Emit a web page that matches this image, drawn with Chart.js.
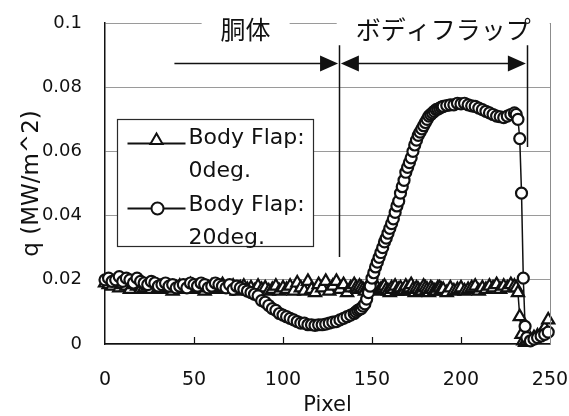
<!DOCTYPE html>
<html>
<head>
<meta charset="utf-8">
<script src="https://cdn.jsdelivr.net/npm/chart.js@4/dist/chart.umd.min.js"></script>
<style>
  html, body { margin: 0; padding: 0; background: #fff; }
  canvas { display: block; }
</style>
</head>
<body>
<canvas id="heatflux" width="569" height="416"></canvas>
<script>
// Sensor pixel positions along the model surface
const pixels = [
  0, 2, 4, 6, 8, 10, 12, 14, 16, 18, 20,
  22, 24, 26, 28, 30, 32, 34, 36, 38, 40,
  42, 44, 46, 48, 50, 52, 54, 56, 58, 60,
  62, 64, 66, 68, 70, 72, 74, 76, 78, 80,
  82, 84, 86, 88, 90, 92, 94, 96, 98, 100,
  102, 104, 106, 108, 110, 112, 114, 116, 118, 120,
  122, 124, 126, 128, 130, 132, 134, 136, 138,
  140, 141, 142, 143, 144, 145, 146, 147, 148, 149, 150,
  151, 152, 153, 154, 155, 156, 157, 158, 159, 160,
  161, 162, 163, 164, 165, 166, 167, 168, 169, 170,
  171, 172, 173, 174, 175, 176, 177, 178, 179, 180,
  181, 182, 183, 184, 185, 186, 187, 188, 189, 190,
  192, 194, 196, 198, 200,
  202, 204, 206, 208, 210, 212, 214, 216, 218, 220,
  222, 224, 226, 228, 230,
  231, 232, 233, 234, 235, 236, 237, 239, 241, 243, 245, 247, 249
];

// Heat flux q [MW/m^2], body flap deflected 0 deg
const flap0deg = [
  0.019, 0.0185, 0.018, 0.019, 0.0175, 0.0185, 0.018, 0.017, 0.0185, 0.018, 0.017,
  0.0175, 0.018, 0.017, 0.0185, 0.0175, 0.017, 0.018, 0.0175, 0.0165, 0.0175,
  0.018, 0.017, 0.0175, 0.0185, 0.017, 0.0175, 0.018, 0.0165, 0.0175, 0.018,
  0.017, 0.0175, 0.0185, 0.017, 0.0175, 0.018, 0.0165, 0.0175, 0.018, 0.017,
  0.0175, 0.0165, 0.018, 0.017, 0.0175, 0.0165, 0.017, 0.018, 0.0165, 0.0175,
  0.017, 0.018, 0.0165, 0.019, 0.0175, 0.0165, 0.0195, 0.017, 0.016, 0.0185,
  0.0175, 0.0195, 0.0165, 0.018, 0.0195, 0.017, 0.0185, 0.016, 0.0175,
  0.0185, 0.0175, 0.017, 0.018, 0.0175, 0.017, 0.0165, 0.0175, 0.018, 0.017, 0.0175,
  0.0185, 0.017, 0.0175, 0.0165, 0.017, 0.0175, 0.018, 0.017, 0.0165, 0.016,
  0.0175, 0.017, 0.018, 0.0165, 0.017, 0.0175, 0.0165, 0.0165, 0.018, 0.017,
  0.0175, 0.0185, 0.017, 0.016, 0.0175, 0.017, 0.0165, 0.0165, 0.018, 0.0175,
  0.017, 0.016, 0.0175, 0.017, 0.0165, 0.0165, 0.0175, 0.0175, 0.017, 0.017,
  0.016, 0.0175, 0.0165, 0.017, 0.0175,
  0.0165, 0.017, 0.0175, 0.018, 0.0165, 0.0175, 0.017, 0.018, 0.0175, 0.0185,
  0.017, 0.018, 0.0175, 0.0185, 0.018,
  0.0175, 0.016, 0.0085, 0.003, 0.001, 0.0005, 0.001, 0.0015, 0.002, 0.0025, 0.003, 0.005, 0.0075
];

// Heat flux q [MW/m^2], body flap deflected 20 deg
const flap20deg = [
  0.020, 0.0205, 0.0195, 0.020, 0.021, 0.0195, 0.0205, 0.020, 0.019, 0.0205, 0.0195,
  0.019, 0.0185, 0.0195, 0.019, 0.018, 0.0185, 0.019, 0.018, 0.0185, 0.0175,
  0.018, 0.0185, 0.0175, 0.019, 0.0185, 0.018, 0.019, 0.0185, 0.0175, 0.018,
  0.019, 0.0185, 0.018, 0.0175, 0.0185, 0.017, 0.018, 0.0175, 0.017, 0.0165,
  0.016, 0.0155, 0.015, 0.0135, 0.013, 0.012, 0.011, 0.0105, 0.0095, 0.009,
  0.0085, 0.008, 0.0075, 0.007, 0.0065, 0.0065, 0.006, 0.006, 0.0058, 0.006,
  0.006, 0.0062, 0.0065, 0.0068, 0.007, 0.0075, 0.008, 0.0085, 0.009,
  0.0095, 0.010, 0.0105, 0.0108, 0.011, 0.0118, 0.0125, 0.014, 0.016, 0.018, 0.0205,
  0.0222, 0.024, 0.0255, 0.027, 0.0285, 0.030, 0.0318, 0.033, 0.0345, 0.036,
  0.0375, 0.039, 0.041, 0.043, 0.0445, 0.047, 0.049, 0.051, 0.0535, 0.055,
  0.0565, 0.058, 0.060, 0.062, 0.0635, 0.065, 0.066, 0.067, 0.068, 0.069,
  0.070, 0.071, 0.0715, 0.072, 0.0725, 0.073, 0.0732, 0.0735, 0.0738, 0.074,
  0.0743, 0.0745, 0.0745, 0.075, 0.0748,
  0.075, 0.0745, 0.0742, 0.074, 0.0735, 0.073, 0.0725, 0.072, 0.0715, 0.071,
  0.0708, 0.0705, 0.071, 0.0715, 0.072,
  0.0715, 0.070, 0.064, 0.047, 0.0205, 0.0055, 0.002, 0.001, 0.0015, 0.002, 0.0025, 0.003, 0.0037
];

const xTickLabels = ['0', '50', '100', '150', '200', '250'];
const yTickLabels = ['0', '0.02', '0.04', '0.06', '0.08', '0.1'];

// Surface regions: fuselage body, then the body flap (pixel ranges)
const regionNames = ['胴体', 'ボディフラップ'];
const bodyRange = [39, 131.5];
const flapRange = [132.5, 237];

const seriesNames = ['Body Flap:\n0deg.', 'Body Flap:\n20deg.'];

const INK = '#111';
const LATIN = '"DejaVu Sans", sans-serif';
const CJK = '"Noto Sans CJK JP", sans-serif';

function toPoints(values) {
  return pixels.map((p, i) => ({ x: p, y: values[i] }));
}

function marker(ctx, style, cx, cy, r) {
  ctx.beginPath();
  if (style === 'triangle') {
    const s = r * Math.sqrt(3) / 2;
    ctx.moveTo(cx, cy - r);
    ctx.lineTo(cx + s, cy + r / 2);
    ctx.lineTo(cx - s, cy + r / 2);
    ctx.closePath();
  } else {
    ctx.arc(cx, cy, r, 0, Math.PI * 2);
  }
  ctx.fillStyle = '#fff';
  ctx.fill();
  ctx.lineWidth = 2;
  ctx.strokeStyle = INK;
  ctx.stroke();
}

function arrowHead(ctx, tipX, y, dir) {
  ctx.beginPath();
  ctx.moveTo(tipX, y);
  ctx.lineTo(tipX - dir * 18, y - 8);
  ctx.lineTo(tipX - dir * 18, y + 8);
  ctx.closePath();
  ctx.fill();
}

const figureNotes = {
  id: 'figureNotes',
  afterDraw(chart) {
    const { ctx, chartArea: a, scales: { x, y } } = chart;
    ctx.save();

    // right frame edge
    ctx.strokeStyle = '#8c8c8c';
    ctx.lineWidth = 1;
    ctx.beginPath();
    ctx.moveTo(a.right + 0.5, a.top);
    ctx.lineTo(a.right + 0.5, a.bottom);
    ctx.stroke();

    // inward tick marks on the pixel axis
    ctx.strokeStyle = INK;
    ctx.lineWidth = 1.2;
    ctx.beginPath();
    for (let i = 1; i < xTickLabels.length - 1; i++) {
      const px = Math.round(x.getPixelForValue(Number(xTickLabels[i]))) + 0.5;
      ctx.moveTo(px, a.bottom);
      ctx.lineTo(px, a.bottom - 7);
    }
    ctx.stroke();

    // region titles sitting on the top frame line
    ctx.font = '25px ' + CJK;
    ctx.textAlign = 'center';
    ctx.textBaseline = 'middle';
    const titleY = a.top + 6;
    const centres = [x.getPixelForValue(79), x.getPixelForValue(190)];
    regionNames.forEach((name, i) => {
      const w = ctx.measureText(name).width;
      ctx.fillStyle = '#fff';
      ctx.fillRect(centres[i] - w / 2 - 19, a.top - 12, w + 38, 26);
      ctx.fillStyle = INK;
      ctx.fillText(name, centres[i], titleY);
    });

    // region extents: divider lines and arrows
    const top = y.getPixelForValue(0.0931);
    const arrowY = Math.round(y.getPixelForValue(0.0875)) + 0.5;
    const xDiv1 = Math.round(x.getPixelForValue(bodyRange[1])) + 0.5;
    const xDiv2 = Math.round(x.getPixelForValue(flapRange[1])) + 0.5;
    ctx.strokeStyle = INK;
    ctx.fillStyle = INK;
    ctx.lineWidth = 1.5;
    ctx.beginPath();
    ctx.moveTo(xDiv1, top);
    ctx.lineTo(xDiv1, y.getPixelForValue(0.0271));
    ctx.moveTo(xDiv2, top);
    ctx.lineTo(xDiv2, y.getPixelForValue(0.0614));
    ctx.stroke();

    const b0 = x.getPixelForValue(bodyRange[0]);
    const b1 = x.getPixelForValue(bodyRange[1]) - 1;
    const f0 = x.getPixelForValue(flapRange[0]);
    const f1 = x.getPixelForValue(flapRange[1]) - 1;
    ctx.beginPath();
    ctx.moveTo(b0, arrowY); ctx.lineTo(b1 - 10, arrowY);
    ctx.moveTo(f0 + 10, arrowY); ctx.lineTo(f1 - 10, arrowY);
    ctx.stroke();
    arrowHead(ctx, b1, arrowY, 1);
    arrowHead(ctx, f0, arrowY, -1);
    arrowHead(ctx, f1, arrowY, 1);

    // legend
    const lx = a.left + 12.5, ly = a.top + 96.5;
    ctx.fillStyle = '#fff';
    ctx.fillRect(lx, ly, 196, 127);
    ctx.strokeStyle = '#2a2a2a';
    ctx.lineWidth = 1.2;
    ctx.strokeRect(lx, ly, 196, 127);

    const order = [1, 0]; // triangles first, circles second
    const rows = [ly + 19, ly + 86];
    ctx.font = '22px ' + LATIN;
    ctx.textAlign = 'left';
    ctx.textBaseline = 'middle';
    order.forEach((dsIndex, r) => {
      const ds = chart.data.datasets[dsIndex];
      const sy = rows[r] + (ds.pointStyle === 'triangle' ? 5 : 3);
      ctx.strokeStyle = INK;
      ctx.lineWidth = 1.8;
      ctx.beginPath();
      ctx.moveTo(lx + 10, sy);
      ctx.lineTo(lx + 68, sy);
      ctx.stroke();
      if (ds.pointStyle === 'triangle') {
        marker(ctx, 'triangle', lx + 39, sy - 3, 7);
      } else {
        marker(ctx, 'circle', lx + 40, sy, 6);
      }
      const lines = seriesNames[r].split('\n');
      ctx.fillStyle = INK;
      ctx.fillText(lines[0], lx + 71, rows[r]);
      ctx.fillText(lines[1], lx + 71, rows[r] + 33);
    });

    ctx.restore();
  }
};

new Chart(document.getElementById('heatflux'), {
  type: 'line',
  data: {
    datasets: [
      {
        label: seriesNames[1],
        data: toPoints(flap20deg),
        pointStyle: 'circle',
        pointRadius: 5.5,
        pointBorderWidth: 2.2,
        pointBackgroundColor: '#fff',
        pointBorderColor: INK,
        borderColor: INK,
        borderWidth: 1.5,
        tension: 0,
        clip: false
      },
      {
        label: seriesNames[0],
        data: toPoints(flap0deg),
        pointStyle: 'triangle',
        pointRadius: 7,
        pointBorderWidth: 2.2,
        pointBackgroundColor: '#fff',
        pointBorderColor: INK,
        borderColor: INK,
        borderWidth: 1.5,
        tension: 0,
        clip: false
      }
    ]
  },
  options: {
    responsive: false,
    animation: false,
    events: [],
    layout: { padding: { top: 23, right: 19, left: 0, bottom: 0 } },
    plugins: { legend: { display: false }, tooltip: { enabled: false } },
    scales: {
      x: {
        type: 'linear',
        min: 0,
        max: 250,
        afterFit(scale) {
          scale.height = 72;
          scale.paddingLeft = 0;
          scale.paddingRight = 0;
        },
        ticks: {
          stepSize: 50,
          padding: 17,
          color: INK,
          font: { family: LATIN, size: 19 },
          callback: (v, i) => xTickLabels[i]
        },
        grid: { display: false },
        border: { color: INK, width: 1.5 },
        title: {
          display: true,
          text: 'Pixel',
          color: INK,
          font: { family: LATIN, size: 21, lineHeight: 1 },
          padding: { top: 0, bottom: 0 }
        }
      },
      y: {
        type: 'linear',
        min: 0,
        max: 0.1,
        afterFit(scale) {
          scale.width = 105;
          scale.paddingTop = 0;
          scale.paddingBottom = 0;
        },
        ticks: {
          stepSize: 0.02,
          padding: 23,
          color: INK,
          font: { family: LATIN, size: 18 },
          callback: (v, i) => yTickLabels[i]
        },
        grid: { color: '#9a9a9a', lineWidth: 1, drawTicks: false },
        border: { color: INK, width: 1.5 },
        title: {
          display: true,
          text: 'q (MW/m^2)',
          color: INK,
          font: { family: LATIN, size: 23, lineHeight: 1.2 },
          padding: { top: 18, bottom: 0 }
        }
      }
    }
  },
  plugins: [figureNotes]
});
</script>
</body>
</html>
